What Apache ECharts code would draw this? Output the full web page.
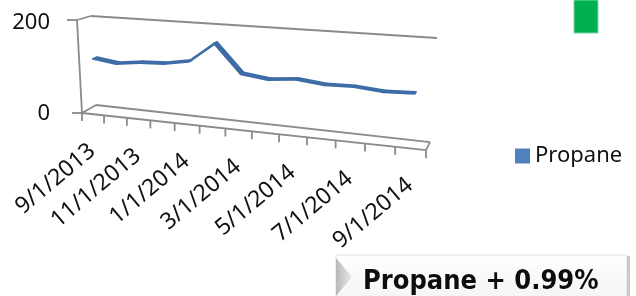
<!DOCTYPE html>
<html>
<head>
<meta charset="utf-8">
<script src="https://cdn.jsdelivr.net/npm/echarts@6/dist/echarts.min.js"></script>
<style>
  html, body { margin: 0; padding: 0; background: #fff; }
  #chart { width: 636px; height: 296px; }
</style>
</head>
<body>
<div id="chart"></div>
<script>
// 데이터
const months = ['9/1/2013', '10/1/2013', '11/1/2013', '12/1/2013', '1/1/2014', '2/1/2014',
  '3/1/2014', '4/1/2014', '5/1/2014', '6/1/2014', '7/1/2014', '8/1/2014', '9/1/2014'];
const propane = [116, 109, 115, 117, 126, 167, 109, 102, 107, 101, 102, 97, 99];
const yMin = 0, yMax = 200, yStep = 200;
const badgeText = 'Propane + 0.99%';

(function () {
  const chart = echarts.init(document.getElementById('chart'));
  const FONT = '"Noto Sans", "Open Sans", sans-serif';
  const frameColor = '#8a8a8a';

  // 3D 느낌의 원근 투영: 앞면 좌표(px, py) + 깊이 w -> 화면 좌표
  function proj(px, py, w, cs) {
    const u = (px - cs.x) / cs.width;
    const v = (cs.y + cs.height - py) / cs.height;
    const gx = u * (0.82 + 0.18 * u);
    const X = cs.x + cs.width * gx + (14 - 10 * gx) * w + (-5 + 12 * gx) * v;
    const Y = cs.y + cs.height + 0.108 * cs.width * gx - 8 * w
      - v * cs.height * (1 - 0.043 * w) * (1 + 0.17 * gx);
    return [X, Y];
  }

  function seg(a, b) {
    return {
      type: 'line',
      shape: { x1: a[0], y1: a[1], x2: b[0], y2: b[1] },
      style: { stroke: frameColor, lineWidth: 1.8 }
    };
  }

  // 박스 프레임
  function renderFrame(params, api) {
    const cs = params.coordSys;
    const top = api.coord([0, yMax])[1];
    const bot = api.coord([0, yMin])[1];
    const xl = cs.x, xr = cs.x + cs.width;
    const ch = [
      seg(proj(xl, top, 1, cs), proj(xr, top, 1, cs)),
      seg(proj(xl, bot, 1, cs), proj(xr, bot, 1, cs)),
      seg(proj(xl, bot, 0, cs), proj(xr, bot, 0, cs)),
      seg(proj(xl, top, 0, cs), proj(xl, top, 1, cs)),
      seg(proj(xl, bot, 0, cs), proj(xl, bot, 1, cs)),
      seg(proj(xr, bot, 0, cs), proj(xr, bot, 1, cs)),
      seg(proj(xl, bot, 0, cs), proj(xl, top, 0, cs))
    ];
    [top, bot].forEach(function (y) {
      const p = proj(xl, y, 0, cs);
      ch.push(seg([p[0] - 10, p[1]], p));
    });
    return { type: 'group', children: ch };
  }

  // x축 눈금 + 라벨
  function renderTicks(params, api) {
    const cs = params.coordSys;
    const i = params.dataIndex;
    const bot = api.coord([0, yMin])[1];
    const c = api.coord([i, yMin]);
    const bw = api.size([1, 0])[0];
    const ch = [];
    const edges = [c[0] - bw / 2];
    if (i === months.length - 1) edges.push(c[0] + bw / 2);
    edges.forEach(function (ex) {
      const p = proj(ex, bot, 0, cs);
      ch.push(seg(p, [p[0], p[1] + 8]));
    });
    if (i % 2 === 0) {
      const a = proj(c[0], bot, 0, cs);
      ch.push({
        type: 'text',
        x: a[0] - 8,
        y: a[1] + 25,
        rotation: 40 * Math.PI / 180,
        style: {
          text: months[i],
          font: '23px ' + FONT,
          fill: '#111',
          align: 'right',
          verticalAlign: 'top'
        }
      });
    }
    return { type: 'group', children: ch };
  }

  // 리본 형태의 라인
  function renderLine(params, api) {
    const cs = params.coordSys;
    const i = params.dataIndex;
    if (i >= propane.length - 1) return null;
    const a = api.coord([i, propane[i]]);
    const b = api.coord([i + 1, propane[i + 1]]);
    const pts = [
      proj(a[0], a[1], 0.2, cs),
      proj(b[0], b[1], 0.2, cs),
      proj(b[0], b[1], 0.5, cs),
      proj(a[0], a[1], 0.5, cs)
    ];
    return {
      type: 'polygon',
      shape: { points: pts },
      style: { fill: '#3e6ca6', stroke: '#3e6ca6', lineWidth: 2, lineJoin: 'round' }
    };
  }

  const option = {
    backgroundColor: '#fff',
    animation: false,
    grid: { left: 82, right: 210, top: 20, bottom: 183 },
    xAxis: {
      type: 'category',
      data: months,
      boundaryGap: true,
      show: false
    },
    yAxis: {
      type: 'value',
      min: yMin,
      max: yMax,
      interval: yStep,
      axisLine: { show: false },
      axisTick: { show: false },
      splitLine: { show: false },
      axisLabel: {
        fontSize: 22, fontFamily: FONT, color: '#111', margin: 32,
        formatter: function (v) { return v === yMax ? '{t|' + v + '}' : '{b|' + v + '}'; },
        rich: {
          t: { fontSize: 22, fontFamily: FONT, color: '#111', padding: [6, 0, 0, 0] },
          b: { fontSize: 22, fontFamily: FONT, color: '#111', padding: [1, 0, 0, 0] }
        }
      }
    },
    legend: {
      data: [{ name: 'Propane', icon: 'rect' }],
      left: 510,
      top: 140,
      itemWidth: 15,
      itemHeight: 15,
      textStyle: { fontSize: 22, fontFamily: FONT, color: '#111' }
    },
    series: [
      {
        name: 'frame',
        type: 'custom',
        renderItem: renderFrame,
        data: [[0, 0]],
        encode: { x: 0, y: 1 },
        silent: true,
        z: 1
      },
      {
        name: 'ticks',
        type: 'custom',
        renderItem: renderTicks,
        data: months.map(function (m, i) { return [i, 0]; }),
        encode: { x: 0, y: 1 },
        silent: true,
        z: 2
      },
      {
        name: 'Propane',
        type: 'custom',
        renderItem: renderLine,
        data: propane.map(function (v, i) { return [i, v]; }),
        encode: { x: 0, y: 1 },
        itemStyle: { color: '#4f81bd' },
        z: 3
      }
    ],
    graphic: [
      {
        type: 'rect',
        shape: { x: 574, y: 0, width: 24, height: 33 },
        style: { fill: '#00b050', stroke: '#7fd8a7', lineWidth: 1 }
      },
      {
        type: 'rect',
        shape: { x: 336, y: 255, width: 291, height: 50 },
        style: {
          fill: {
            type: 'linear', x: 0, y: 0, x2: 0, y2: 1,
            colorStops: [{ offset: 0, color: '#ffffff' }, { offset: 1, color: '#f3f3f3' }]
          },
          stroke: '#e4e4e4',
          lineWidth: 1
        }
      },
      {
        type: 'rect',
        shape: { x: 627, y: 256, width: 3, height: 40 },
        style: { fill: '#c9c9c9' }
      },
      {
        type: 'polygon',
        shape: { points: [[336, 258], [352, 277], [336, 296]] },
        style: {
          fill: {
            type: 'linear', x: 0, y: 0, x2: 1, y2: 0,
            colorStops: [{ offset: 0, color: '#b9b9b9' }, { offset: 1, color: '#e9e9e9' }]
          }
        }
      },
      {
        type: 'text',
        x: 363,
        y: 282,
        style: {
          text: badgeText,
          font: 'bold 27px "DejaVu Sans Condensed", "DejaVu Sans", sans-serif',
          fill: '#0d0d0d',
          verticalAlign: 'middle'
        }
      }
    ]
  };

  chart.setOption(option);
  window.addEventListener('resize', function () {
    chart.resize();
  });
})();
</script>
</body>
</html>
